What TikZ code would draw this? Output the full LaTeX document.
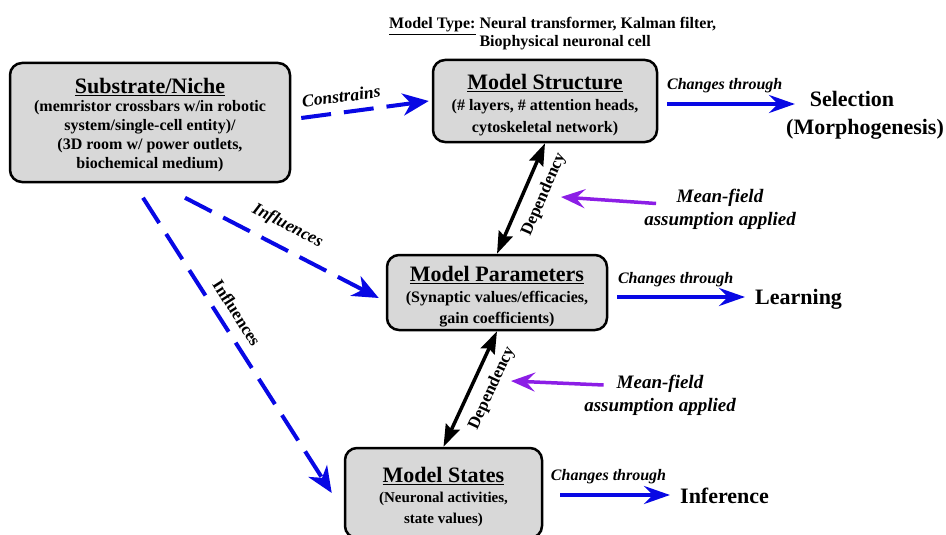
\documentclass[tikz,border=0pt]{standalone}
\usepackage{fontspec}
\setmainfont{Liberation Serif}
\usetikzlibrary{arrows.meta,calc}

\definecolor{boxfill}{RGB}{216,216,216}
\definecolor{flowblue}{RGB}{8,8,228}
\definecolor{mfpurple}{RGB}{140,30,230}

% box heading: underlined, with a strut that sets the top of the text block
\newcommand\boxtitle[2][22pt]{{\fontsize{22}{24}\selectfont\rule{0pt}{#1}\underline{#2}}}

\tikzset{
  box/.style={draw=black, line width=2.5pt, rounded corners=12pt, fill=boxfill,
    align=center, inner sep=0pt, font=\fontsize{16}{20}\selectfont\bfseries},
  solidflow/.style={draw=flowblue, line width=4pt,
    -{Stealth[length=26pt,width=18pt,inset=9pt]}},
  dashflow/.style={draw=flowblue, line width=4pt, dash pattern=on 30pt off 13pt,
    -{Stealth[length=26pt,width=22pt,inset=8pt]}},
  depend/.style={draw=black, line width=3.5pt,
    {Stealth[length=22pt,width=15pt,inset=3pt]}-{Stealth[length=22pt,width=15pt,inset=3pt]}},
  mfarrow/.style={draw=mfpurple, line width=3.5pt,
    -{Stealth[length=24pt,width=19pt,inset=9pt]}},
  slantlbl/.style={inner sep=0pt, font=\fontsize{17.5}{20}\selectfont\bfseries\itshape},
  uprightlbl/.style={inner sep=0pt, font=\fontsize{17}{20}\selectfont\bfseries},
  chglbl/.style={inner sep=0pt, anchor=base, font=\fontsize{16}{18}\selectfont\bfseries\itshape},
  outcome/.style={inner sep=0pt, align=center, font=\fontsize{22}{28}\selectfont\bfseries},
  mflbl/.style={inner sep=0pt, align=center, font=\fontsize{19}{23}\selectfont\bfseries\itshape},
}

\begin{document}
\begin{tikzpicture}[x=1pt, y=-1pt]
  \path[use as bounding box, fill=white] (0,0) rectangle (946,535);

  % model type caption
  \node[anchor=base west, inner sep=0pt, font=\fontsize{16}{18}\selectfont\bfseries]
    (mtype) at (389,29) {\underline{Model Type:} \begin{tabular}[t]{@{}l@{}}Neural transformer, Kalman filter,\\ Biophysical neuronal cell\end{tabular}};

  % boxes
  \node[box, minimum width=280pt, minimum height=119pt, font=\fontsize{16}{19}\selectfont\bfseries]
    (sub) at (150,122.5) {\boxtitle[21pt]{Substrate/Niche}\\[-1pt]
      (memristor crossbars w/in robotic\\ system/single-cell entity)/\\
      (3D room w/ power outlets,\\ biochemical medium)};
  \node[box, minimum width=224pt, minimum height=82pt, font=\fontsize{16}{22}\selectfont\bfseries]
    (struct) at (545,101) {\boxtitle[24pt]{Model Structure}\\[-1pt]
      (\# layers, \# attention heads,\\ cytoskeletal network)};
  \node[box, minimum width=220pt, minimum height=75pt, font=\fontsize{16}{21}\selectfont\bfseries]
    (params) at (497,292.5) {\boxtitle[23pt]{Model Parameters}\\[0pt]
      (Synaptic values/efficacies,\\ gain coefficients)};
  \node[box, minimum width=197pt, minimum height=90pt, font=\fontsize{15}{20.5}\selectfont\bfseries]
    (states) at (443.5,493) {\boxtitle[23pt]{Model States}\\[0pt]
      (Neuronal activities,\\ state values)};

  % outcomes
  \node[outcome] (sel) at (865,115) {Selection\hspace*{26pt}\\(Morphogenesis)};
  \node[outcome, anchor=base west] (learn) at (755,304) {Learning};
  \node[outcome, anchor=base west] (infer) at (680,503.5) {Inference};

  % mean-field notes
  \node[mflbl] (mf1) at (720,209) {Mean-field\\ assumption applied};
  \node[mflbl] (mf2) at (660,395) {Mean-field\\ assumption applied};
  \coordinate (mf1tip) at (561,197);
  \coordinate (mf2tip) at (511,381);

  % substrate influences
  \draw[dashflow] ([shift={(10,-4.5)}]sub.east) -- ([xshift=-3pt]struct.west)
    node[slantlbl, pos=0.33, sloped, above=8pt] (lblcon) {Constrains};
  \draw[dashflow] ([shift={(35,14.5)}]sub.south) -- ([shift={(-7,5.5)}]params.west)
    node[slantlbl, pos=0.477, sloped, above=12pt] (lblinf1) {Influences};
  \draw[dashflow] ([shift={(-7,14.5)}]sub.south) -- ([xshift=-12pt]states.west)
    node[uprightlbl, pos=0.421, sloped, above=9pt] (lblinf2) {Influences};

  % dependencies between model levels
  \draw[depend] (struct.south) -- (params.north)
    node[uprightlbl, pos=0.394, sloped, below=10pt] (lbldep1) {Dependency};
  \draw[depend] (params.south) -- (states.north)
    node[uprightlbl, pos=0.424, sloped, below=10pt] (lbldep2) {Dependency};

  % mean-field arrows
  \draw[mfarrow] ([shift={(12,-5.5)}]mf1.west) -- (mf1tip);
  \draw[mfarrow] ([shift={(19.5,-10)}]mf2.west) -- (mf2tip);

  % change mechanisms
  \draw[solidflow] ([shift={(9,3)}]struct.east) -- ([shift={(9,3)}]struct.east -| sel.west)
    node[chglbl, pos=0.45, yshift=14pt] (lblchg1) {Changes through};
  \draw[solidflow] ([shift={(9,4.5)}]params.east) -- ([shift={(-10,4.5)}]params.east -| learn.west)
    node[chglbl, pos=0.457, yshift=14pt] (lblchg2) {Changes through};
  \draw[solidflow] ([shift={(17,2)}]states.east) -- ([shift={(-10,2)}]states.east -| infer.west)
    node[chglbl, pos=0.44, yshift=15pt] (lblchg3) {Changes through};
\end{tikzpicture}
\end{document}
